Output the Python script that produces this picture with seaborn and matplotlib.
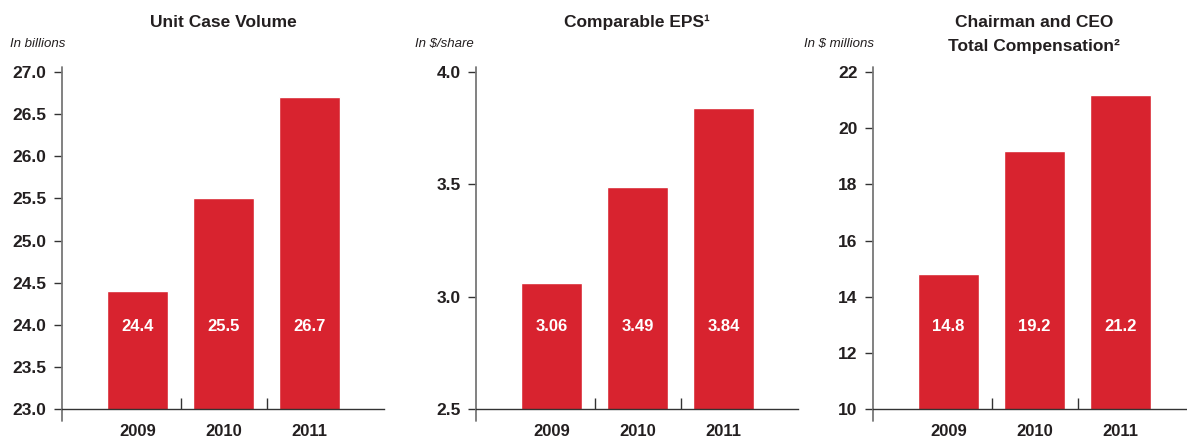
import matplotlib
matplotlib.use("Agg")
import matplotlib.pyplot as plt
import seaborn as sns
import numpy as np
from matplotlib.transforms import blended_transform_factory

# data
years = ["2009", "2010", "2011"]
unit_case = [24.4, 25.5, 26.7]
eps = [3.06, 3.49, 3.84]
ceo_comp = [14.8, 19.2, 21.2]

unit_case_labels = ["24.4", "25.5", "26.7"]
eps_labels = ["3.06", "3.49", "3.84"]
ceo_labels = ["14.8", "19.2", "21.2"]

titles = ["Unit Case Volume", "Comparable EPS\u00b9", "Chairman and CEO\nTotal Compensation\u00b2"]
units = ["In billions", "In $/share", "In $ millions"]

RED = "#d8232f"
DARK = "#231f20"

sns.set_style("white")
plt.rcParams["font.family"] = ["Liberation Sans", "DejaVu Sans"]

fig = plt.figure(figsize=(11.87, 4.40), dpi=100)

W, H = 1187, 440
ax_w = 322 / W
ax_bottom = (H - 409) / H
ax_h = 342 / H
lefts = [62, 476, 873]

panels = [
    (unit_case, unit_case_labels, np.arange(23.0, 27.01, 0.5), (23.0, 27.06), "{:.1f}"),
    (eps, eps_labels, np.arange(2.5, 4.01, 0.5), (2.5, 4.022), "{:.1f}"),
    (ceo_comp, ceo_labels, np.arange(10, 22.1, 2), (10, 22.18), "{:.0f}"),
]

unit_x = [10, 415, 804]

for i, (vals, labs, yt, ylim, fmt) in enumerate(panels):
    ax = fig.add_axes([lefts[i] / W, ax_bottom, ax_w, ax_h])
    sns.barplot(x=years, y=vals, color=RED, saturation=1, width=0.71, ax=ax)
    ax.set_xlim(-0.878, 2.866)
    ax.set_ylim(*ylim)
    ax.set_xlabel("")
    ax.set_ylabel("")

    ax.set_yticks(yt)
    ax.set_yticklabels([fmt.format(v) for v in yt], fontsize=12.5,
                       fontweight="bold", color=DARK)
    ax.tick_params(axis="y", direction="out", length=6, width=1,
                   color="#333333", pad=5, left=True)
    ax.tick_params(axis="x", which="major", length=0, pad=11)
    for t in ax.get_xticklabels():
        t.set_fontsize(12)
        t.set_fontweight("bold")
        t.set_color(DARK)
    ax.set_xticks([0.5, 1.5], minor=True)
    ax.tick_params(axis="x", which="minor", direction="in", length=8,
                   width=1, color="#333333", bottom=True)

    for side in ["top", "right", "left"]:
        ax.spines[side].set_visible(False)
    ax.spines["bottom"].set_color("#333333")
    ax.spines["bottom"].set_linewidth(1)
    ax.plot([0, 0], [-0.035, 1.0], transform=ax.transAxes, clip_on=False,
            color="#777777", lw=1.3)

    tr = blended_transform_factory(ax.transData, ax.transAxes)
    for j, lab in enumerate(labs):
        ax.text(j, 0.24, lab, transform=tr, ha="center", va="center",
                color="white", fontsize=12, fontweight="bold")

    title_lines = titles[i].split("\n")
    if len(title_lines) == 1:
        ax.text(0.5, (409 - 22) / 342, title_lines[0], transform=ax.transAxes,
                ha="center", va="center", fontsize=12.5, fontweight="bold", color=DARK)
    else:
        for k, line in enumerate(title_lines):
            ax.text(0.5, (409 - 22 - 24 * k) / 342, line, transform=ax.transAxes,
                    ha="center", va="center", fontsize=12.5, fontweight="bold", color=DARK)

    fig.text(unit_x[i] / W, 1 - 44 / H, units[i], ha="left", va="center",
             fontsize=9.5, style="italic", color=DARK)

fig.savefig("out.png", dpi=100)
